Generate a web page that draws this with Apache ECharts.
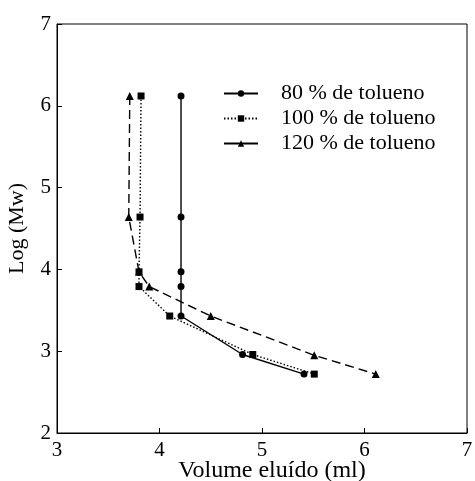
<!DOCTYPE html>
<html lang="pt">
<head>
    <meta charset="utf-8">
    <script src="https://cdn.jsdelivr.net/npm/echarts@6/dist/echarts.min.js"></script>
    <title>Log (Mw) x Volume eluído</title>
    <style>
        html, body { margin: 0; padding: 0; background: #fff; }
        #main { width: 475px; height: 481px; }
    </style>
</head>
<body>
<div id="main"></div>
<script type="text/javascript">
    // valores
    var seriesNames = ['80 % de tolueno', '100 % de tolueno', '120 % de tolueno'];
    var logMw80 = [6.12, 4.64, 3.97, 3.79, 3.43, 2.96, 2.72];
    var vol80 = [4.21, 4.21, 4.21, 4.21, 4.21, 4.81, 5.41];
    var logMw100 = [6.12, 4.64, 3.97, 3.79, 3.43, 2.96, 2.72];
    var vol100 = [3.82, 3.81, 3.80, 3.80, 4.10, 4.91, 5.51];
    var logMw120 = [6.12, 4.64, 3.97, 3.79, 3.43, 2.95, 2.72];
    var vol120 = [3.71, 3.70, 3.80, 3.90, 4.50, 5.51, 6.11];

    function pairs(xs, ys) {
        return xs.map(function (x, i) { return [x, ys[i]]; });
    }

    var font = 'Liberation Serif';
    var chart = echarts.init(document.getElementById('main'), null, {renderer: 'canvas'});

    var option = {
        backgroundColor: '#fff',
        animation: false,
        grid: {
            left: 57, right: 8, top: 24, bottom: 48,
            outerBoundsMode: 'none', containLabel: false,
            show: true, borderColor: '#000', borderWidth: 1
        },
        legend: {
            orient: 'vertical',
            left: 223, top: 82, padding: 0,
            itemWidth: 34, itemHeight: 8, itemGap: 2,
            data: [
                {name: seriesNames[0]},
                {name: seriesNames[1]},
                {name: seriesNames[2], lineStyle: {type: 'solid'}}
            ],
            textStyle: {fontFamily: font, fontSize: 22, color: '#000', lineHeight: 23, padding: [0, 0, 0, 18]}
        },
        xAxis: {
            type: 'value', min: 3, max: 7, interval: 1,
            name: 'Volume eluído (ml)', nameLocation: 'middle', nameGap: 26,
            nameMoveOverlap: false,
            nameTextStyle: {fontFamily: font, fontSize: 24, color: '#000', padding: [0, 0, 0, 20]},
            axisLine: {lineStyle: {color: '#000', width: 1}},
            axisTick: {inside: true, length: 5, lineStyle: {color: '#000'}},
            axisLabel: {fontFamily: font, fontSize: 21, color: '#000', margin: 7},
            splitLine: {show: false}
        },
        yAxis: {
            type: 'value', min: 2, max: 7, interval: 1,
            name: 'Log (Mw)', nameLocation: 'middle', nameGap: 29,
            nameMoveOverlap: false,
            nameTextStyle: {fontFamily: font, fontSize: 22, color: '#000'},
            axisLine: {lineStyle: {color: '#000', width: 1}},
            axisTick: {inside: true, length: 5, lineStyle: {color: '#000'}},
            axisLabel: {fontFamily: font, fontSize: 21, color: '#000', margin: 6},
            splitLine: {show: false}
        },
        series: [
            {
                name: seriesNames[0], type: 'line', data: pairs(vol80, logMw80),
                symbol: 'circle', symbolSize: 7,
                itemStyle: {color: '#000'},
                lineStyle: {color: '#000', width: 1.4, type: 'solid'}
            },
            {
                name: seriesNames[1], type: 'line', data: pairs(vol100, logMw100),
                symbol: 'rect', symbolSize: 7,
                itemStyle: {color: '#000'},
                lineStyle: {color: '#000', width: 1.4, type: [1.5, 2]}
            },
            {
                name: seriesNames[2], type: 'line', data: pairs(vol120, logMw120),
                symbol: 'triangle', symbolSize: 8,
                itemStyle: {color: '#000'},
                lineStyle: {color: '#000', width: 1.4, type: [9, 5]}
            }
        ]
    };

    chart.setOption(option);
</script>
</body>
</html>
